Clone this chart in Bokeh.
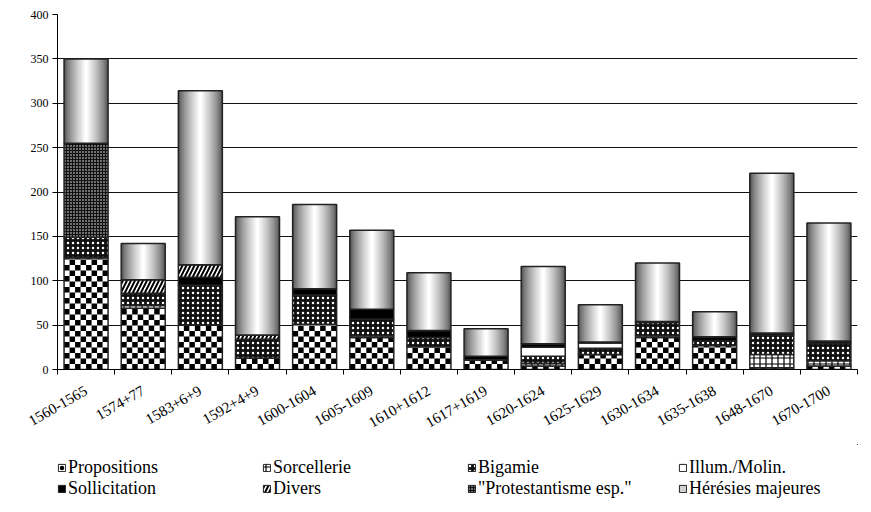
import math
from bokeh.plotting import figure
from bokeh.layouts import column
from bokeh.models import (FixedTicker, Legend, LegendItem, ColumnDataSource)
from bokeh.embed import file_html
from bokeh.resources import INLINE

# ---------------- data ----------------
categories = ["1560-1565", "1574+77", "1583+6+9", "1592+4+9", "1600-1604", "1605-1609",
              "1610+1612", "1617+1619", "1620-1624", "1625-1629", "1630-1634",
              "1635-1638", "1648-1670", "1670-1700"]
propositions   = [126, 69, 50, 13, 51, 36, 26, 11, 4, 17, 36, 27, 2, 4]
sorcellerie    = [0, 3, 0, 0, 0, 2, 0, 0, 3, 0, 2, 0, 15, 6]
bigamie        = [23, 14, 45, 21, 33, 19, 10, 0, 8, 7, 15, 5, 22, 20]
illum          = [0, 0, 0, 0, 0, 0, 0, 0, 10, 6, 0, 0, 0, 0]
sollicitation  = [0, 0, 9, 0, 7, 11, 8, 4, 4, 1, 1, 5, 2, 2]
divers         = [0, 15, 14, 5, 0, 0, 0, 0, 0, 0, 0, 0, 0, 0]
protestantisme = [106, 0, 0, 0, 0, 0, 0, 0, 0, 0, 0, 0, 0, 0]
heresies       = [95, 41, 196, 133, 95, 89, 65, 31, 87, 42, 66, 28, 180, 133]
y_ticks = [0, 50, 100, 150, 200, 250, 300, 350, 400]

series = [
    ("Propositions", propositions),
    ("Sorcellerie", sorcellerie),
    ("Bigamie", bigamie),
    ("Illum./Molin.", illum),
    ("Sollicitation", sollicitation),
    ("Divers", divers),
    ("\"Protestantisme esp.\"", protestantisme),
    ("Hérésies majeures", heresies),
]

BW = 0.77
LINE = "#222222"

styles = {
    "Propositions": dict(fill_color="white"),
    "Sorcellerie": dict(fill_color="white", hatch_pattern="+", hatch_color="black",
                        hatch_weight=1.2, hatch_scale=6),
    "Bigamie": dict(fill_color="#111111", hatch_pattern=".", hatch_color="white",
                    hatch_weight=2.2, hatch_scale=5),
    "Illum./Molin.": dict(fill_color="white"),
    "Sollicitation": dict(fill_color="black"),
    "Divers": dict(fill_color="white", hatch_pattern="/", hatch_color="black",
                   hatch_weight=2, hatch_scale=8),
    "\"Protestantisme esp.\"": dict(fill_color="#111111", hatch_pattern=".", hatch_color="white",
                                     hatch_weight=0.9, hatch_scale=3),
    "Hérésies majeures": dict(fill_color="#d0d0d0"),
}

FONT = "Liberation Serif"

# ---------------- main figure ----------------
W = 871
n = len(categories)
xs = list(range(n))
p = figure(width=W, height=444, x_range=(-0.5, n - 0.5), y_range=(0, 400),
           output_backend="svg", toolbar_location=None,
           min_border_left=57, min_border_right=14, min_border_top=14, min_border_bottom=75)
p.outline_line_color = None
p.xgrid.grid_line_color = None
p.ygrid.grid_line_color = "#111111"
p.ygrid.grid_line_width = 1
p.ygrid.ticker = FixedTicker(ticks=y_ticks)

# checker cells for "Propositions": 8 columns across a bar, square cells on screen
CELL_COLS = 8
px_per_x = 800 / n
px_per_y = 355 / 400
cell_w = BW / CELL_COLS
cell_h = cell_w * px_per_x / px_per_y

bottom = [0] * n
for name, vals in series:
    top = [b + v for b, v in zip(bottom, vals)]
    src = ColumnDataSource(dict(x=xs, bottom=bottom, top=top))
    if name == "Hérésies majeures":
        N = 16
        for i in range(N):
            t = i / (N - 1)
            g = int(85 + (255 - 85) * t ** 0.75)
            col = "#%02x%02x%02x" % (g, g, g)
            p.vbar(x="x", bottom="bottom", top="top", width=BW * (1 - i / N), source=src,
                   fill_color=col, line_color=None)
        p.vbar(x="x", bottom="bottom", top="top", width=BW, source=src,
               fill_color=None, line_color=LINE, line_width=1.5)
    elif name == "Propositions":
        p.vbar(x="x", bottom="bottom", top="top", width=BW, source=src,
               fill_color="white", line_color=None)
        L, R, B, T = [], [], [], []
        for i, (b0, t0) in enumerate(zip(bottom, top)):
            k = 0
            while b0 + k * cell_h < t0:
                for j in range(CELL_COLS):
                    if (j + k) % 2 == 0:
                        L.append(i - BW / 2 + j * cell_w)
                        R.append(i - BW / 2 + (j + 1) * cell_w)
                        B.append(b0 + k * cell_h)
                        T.append(min(b0 + (k + 1) * cell_h, t0))
                k += 1
        p.quad(left=L, right=R, bottom=B, top=T, fill_color="black", line_color=None)
        p.vbar(x="x", bottom="bottom", top="top", width=BW, source=src,
               fill_color=None, line_color=LINE, line_width=1.5)
    else:
        p.vbar(x="x", bottom="bottom", top="top", width=BW, source=src, line_width=1.5,
               line_color=LINE, **styles[name])
    bottom = top

ya = p.yaxis[0]
ya.ticker = FixedTicker(ticks=y_ticks)
ya.axis_line_color = "black"
ya.major_tick_line_color = "black"
ya.major_tick_out = 5
ya.major_tick_in = 0
ya.minor_tick_line_color = None
ya.major_label_text_font = FONT
ya.major_label_text_font_size = "12px"
ya.major_label_text_color = "black"
ya.major_label_standoff = 4

xa = p.xaxis[0]
xa.ticker = FixedTicker(ticks=xs, minor_ticks=[i - 0.5 for i in range(n + 1)])
xa.major_label_overrides = {i: c for i, c in enumerate(categories)}
xa.major_tick_line_color = None
xa.minor_tick_line_color = "black"
xa.minor_tick_out = 5
xa.minor_tick_in = 0
xa.axis_line_color = "black"
xa.major_label_orientation = math.pi / 6
xa.major_label_text_font = FONT
xa.major_label_text_font_size = "15px"
xa.major_label_text_color = "black"
xa.major_label_standoff = 14

# ---------------- legend figure ----------------
q = figure(width=W, height=64, x_range=(0, 1), y_range=(0, 1), output_backend="svg",
           toolbar_location=None, min_border_left=57, min_border_right=14,
           min_border_top=0, min_border_bottom=0, x_axis_location=None, y_axis_location=None)
q.grid.visible = False
q.outline_line_color = None
rend = {}
for name, _ in series:
    st = dict(styles[name])
    if name == "Propositions":
        st.update(hatch_pattern=".", hatch_color="black", hatch_weight=4, hatch_scale=9)
    rend[name] = q.vbar(x=[5], top=[6], bottom=[5], width=0.1, line_width=1,
                        line_color=LINE, **st)

common = dict(orientation="horizontal", label_text_font=FONT, label_text_font_size="18px",
              label_text_color="black", glyph_width=9, glyph_height=9, label_standoff=2,
              spacing=0, padding=0, margin=0, label_height=20,
              border_line_color=None, background_fill_alpha=0)
left_names = ["Propositions", "Sorcellerie", "Bigamie",
              "Sollicitation", "Divers", "\"Protestantisme esp.\""]
right_names = ["Illum./Molin.", "Hérésies majeures"]
legA = Legend(items=[LegendItem(label=k, renderers=[rend[k]]) for k in left_names],
              ncols=3, location=(0, 9), label_width=194, **common)
legB = Legend(items=[LegendItem(label=k, renderers=[rend[k]]) for k in right_names],
              ncols=1, location=(621, 9), label_width=160, **common)
q.add_layout(legA, "center")
q.add_layout(legB, "center")

open("out.html", "w").write(file_html(column(p, q, spacing=0), INLINE))
